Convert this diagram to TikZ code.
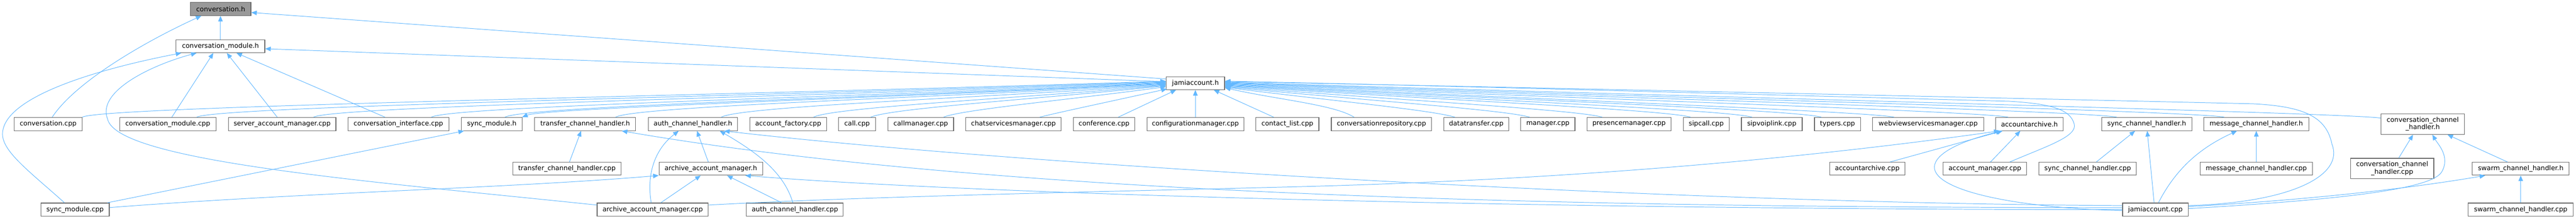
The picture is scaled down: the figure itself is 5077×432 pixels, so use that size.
\documentclass[tikz,border=0pt]{standalone}
\usepackage{fontspec}
\setmainfont{DejaVu Sans}
\usetikzlibrary{arrows.meta,calc}
\definecolor{edgeblue}{HTML}{63B8FF}
\definecolor{boxgray}{HTML}{666666}
\definecolor{rootgray}{HTML}{999999}
\tikzset{
  box/.style={draw=boxgray, line width=1.2pt, fill=white, inner sep=0pt,
    font=\fontsize{13}{14.5}\selectfont, align=center},
  fedge/.style={draw=edgeblue, line width=1pt, -{Triangle[length=11pt,width=9pt]}},
  redge/.style={draw=edgeblue, line width=1pt, {Triangle[length=11pt,width=9pt]}-},
}
\newcommand\boxnode[7][]{\node[box,#1, minimum width=#5pt, minimum height=#6pt] (#2) at (#3,#4) {#7};}
\newcommand\curvelink[5][fedge]{%
  \coordinate (s) at #2; \coordinate (e) at #3;
  \draw[#1] (s) .. controls ($(s)+#4$) and ($(e)!#5!(s)$) .. (e);}
\begin{document}
\begin{tikzpicture}[x=1pt,y=-1pt]
\useasboundingbox (0,0) rectangle (5077,432);
% rank 0-2
\boxnode[fill=rootgray]{convh}{435}{17.7}{119}{26}{conversation.h}
\boxnode{convmodh}{434.5}{91.3}{175}{25.5}{conversation\_module.h}
\boxnode{jamih}{2356}{164.3}{115}{25.5}{jamiaccount.h}
% rank 3
\boxnode{convcpp}{94.9}{245}{133.3}{26}{conversation.cpp}
\boxnode{convmodcpp}{330.7}{245}{189.7}{26}{conversation\_module.cpp}
\boxnode{samcpp}{556}{245}{212}{26}{server\_account\_manager.cpp}
\boxnode{convifcpp}{785.2}{245}{199}{26}{conversation\_interface.cpp}
\boxnode{syncmodh}{969.2}{245}{120.4}{26}{sync\_module.h}
\boxnode{tchh}{1153.3}{245}{199}{26}{transfer\_channel\_handler.h}
\boxnode{achh}{1365.6}{245}{175.7}{26}{auth\_channel\_handler.h}
\boxnode{afcpp}{1553.4}{245}{151.3}{26}{account\_factory.cpp}
\boxnode{callcpp}{1689.2}{245}{72.7}{26}{call.cpp}
\boxnode{cmcpp}{1814.7}{245}{129.5}{26}{callmanager.cpp}
\boxnode{csmcpp}{1997.4}{245}{188.1}{26}{chatservicesmanager.cpp}
\boxnode{confcpp}{2176}{245}{121.5}{26}{conference.cpp}
\boxnode{cfgcpp}{2355.9}{245}{190.8}{26}{configurationmanager.cpp}
\boxnode{clcpp}{2537.3}{245}{124.1}{26}{contact\_list.cpp}
\boxnode{crcpp}{2722.7}{245}{197.9}{26}{conversationrepository.cpp}
\boxnode{dtcpp}{2909.4}{245}{128}{26}{datatransfer.cpp}
\boxnode{mgrcpp}{3050.6}{245}{106.8}{26}{manager.cpp}
\boxnode{pmcpp}{3210.6}{245}{165.3}{26}{presencemanager.cpp}
\boxnode{sipcallcpp}{3362.8}{245}{90.4}{26}{sipcall.cpp}
\boxnode{svlcpp}{3491.9}{245}{119.8}{26}{sipvoiplink.cpp}
\boxnode{typcpp}{3621.5}{245}{90.5}{26}{typers.cpp}
\boxnode{wvsmcpp}{3800.1}{245}{219}{26}{webviewservicesmanager.cpp}
\boxnode{aah}{3999.8}{245}{132.8}{26}{accountarchive.h}
\boxnode{schh}{4230.9}{245}{177.6}{26}{sync\_channel\_handler.h}
\boxnode{mchh}{4446.8}{245}{206.6}{26}{message\_channel\_handler.h}
\boxnode{cchh}{4774.8}{245.2}{164.3}{40.3}{conversation\_channel\\\_handler.h}
% rank 4
\boxnode{tchcpp}{1117.3}{333.3}{213.5}{25.5}{transfer\_channel\_handler.cpp}
\boxnode{aamh}{1401}{333.3}{204.4}{25.5}{archive\_account\_manager.h}
\boxnode{aacpp}{3680}{333.3}{148}{25.5}{accountarchive.cpp}
\boxnode{amcpp}{3912}{333.3}{164.2}{25.5}{account\_manager.cpp}
\boxnode{schcpp}{4114.5}{333.3}{191.9}{25.5}{sync\_channel\_handler.cpp}
\boxnode{mchcpp}{4446.9}{333.3}{221.7}{25.5}{message\_channel\_handler.cpp}
\boxnode{cchcpp}{4714.6}{332.8}{164.2}{40.3}{conversation\_channel\\\_handler.cpp}
\boxnode{swhh}{4968}{333.3}{190.8}{25.5}{swarm\_channel\_handler.h}
% rank 5
\boxnode{smcpp}{148}{414}{134.4}{26}{sync\_module.cpp}
\boxnode{aamcpp}{1286.4}{414}{219}{26}{archive\_account\_manager.cpp}
\boxnode{achcpp}{1566.6}{414}{190.8}{26}{auth\_channel\_handler.cpp}
\boxnode{jacpp}{4248}{414}{129.3}{26}{jamiaccount.cpp}
\boxnode{swhcpp}{4968}{414}{207}{26}{swarm\_channel\_handler.cpp}

% ---- edges into conversation.h
\draw[fedge] (convmodh.north) -- (convmodh.north |- convh.south);
\draw[fedge] ($(convcpp.north)+(8,0)$) .. controls (150,160) and (290,80) .. ($(convh.south west)+(22,0)$);
\draw[fedge] ($(jamih.north west)+(0,5)$) -- ($(convh.east)+(0,7)$);
% ---- edges into conversation_module.h
\draw[fedge] ($(jamih.west)+(0,-3)$) -- ($(convmodh.east)+(0,5)$);
\draw[fedge] ($(convmodcpp.north)+(8,0)$) -- ($(convmodh.south)+(-14,0)$);
\draw[fedge] ($(samcpp.north)+(-9.6,0)$) -- ($(convmodh.south)+(12.5,0)$);
\draw[fedge] ($(convifcpp.north)+(-26.4,0)$) -- ($(convmodh.south)+(31.5,0)$);
\draw[fedge] ($(smcpp.north)+(-21,0)$) .. controls (60,340) and (5,300) .. (5,265)
  .. controls (5,190) and (200,135) .. ($(convmodh.south west)+(11,0)$);
\draw[fedge] ($(aamcpp.west)+(0,-9)$) .. controls (750,360) and (230,320) .. (212,235)
  .. controls (190,180) and (300,128) .. ($(convmodh.south)+(-47,0)$);

% ---- edges into jamiaccount.h from the left
\curvelink{(convcpp.north east)}{($(jamih.west)+(0,-4)$)}{(40,-22)}{0.4}
\curvelink{($(convmodcpp.north)+(57,0)$)}{($(jamih.west)+(0,-3)$)}{(40,-22)}{0.4}
\curvelink{($(samcpp.north)+(62,0)$)}{($(jamih.west)+(0,-2)$)}{(40,-22)}{0.4}
\curvelink{($(convifcpp.north)+(65,0)$)}{($(jamih.west)+(0,-1)$)}{(40,-22)}{0.4}
\curvelink{($(syncmodh.north)+(26,0)$)}{($(jamih.west)+(0,0)$)}{(40,-22)}{0.4}
\curvelink[redge]{($(syncmodh.north east)+(-1,0)$)}{($(jamih.west)+(0,1)$)}{(45,-18)}{0.4}
\curvelink{($(tchh.north)+(60,0)$)}{($(jamih.west)+(0,2)$)}{(40,-22)}{0.4}
\curvelink{($(achh.north)+(56,0)$)}{($(jamih.west)+(0,3)$)}{(40,-22)}{0.4}
\curvelink{($(afcpp.north)+(50,0)$)}{($(jamih.west)+(0,4)$)}{(40,-20)}{0.4}
\curvelink{($(callcpp.north)+(27,0)$)}{($(jamih.west)+(0,5)$)}{(40,-18)}{0.4}
\curvelink{($(cmcpp.north)+(45,0)$)}{($(jamih.west)+(0,7)$)}{(35,-15)}{0.4}
\curvelink{($(csmcpp.north)+(52,0)$)}{($(jamih.south west)+(2,-2)$)}{(30,-8)}{0.4}
\draw[fedge] ($(confcpp.north)+(28,0)$) -- ($(jamih.south west)+(20,0)$);
\draw[fedge] (cfgcpp.north) -- (cfgcpp.north |- jamih.south);
\draw[fedge] ($(clcpp.north)+(-27,0)$) -- ($(jamih.south east)+(-22,0)$);
% ---- edges into jamiaccount.h from the right
\curvelink{($(crcpp.north)+(-54,0)$)}{($(jamih.east)+(0,9)$)}{(-40,-25)}{0.4}
\curvelink{($(dtcpp.north)+(-42,0)$)}{($(jamih.east)+(0,8)$)}{(-50,-15)}{0.4}
\curvelink{($(mgrcpp.north)+(-36,0)$)}{($(jamih.east)+(0,7)$)}{(-50,-15)}{0.4}
\curvelink{($(pmcpp.north)+(-53,0)$)}{($(jamih.east)+(0,6)$)}{(-50,-15)}{0.4}
\curvelink{($(sipcallcpp.north)+(-31,0)$)}{($(jamih.east)+(0,5)$)}{(-50,-15)}{0.4}
\curvelink{($(svlcpp.north)+(-39,0)$)}{($(jamih.east)+(0,4)$)}{(-50,-15)}{0.4}
\curvelink{($(typcpp.north)+(-32,0)$)}{($(jamih.east)+(0,3)$)}{(-50,-15)}{0.4}
\curvelink{($(wvsmcpp.north)+(-67,0)$)}{($(jamih.east)+(0,2)$)}{(-60,-12)}{0.4}
\curvelink{($(aah.north)+(-42,0)$)}{($(jamih.east)+(0,1)$)}{(-60,-12)}{0.4}
\curvelink{($(schh.north)+(-59,0)$)}{($(jamih.east)+(0,0)$)}{(-60,-12)}{0.4}
\curvelink{($(mchh.north)+(-63,0)$)}{($(jamih.east)+(0,-1)$)}{(-60,-12)}{0.4}
\curvelink{($(cchh.west)+(0,-12)$)}{($(jamih.east)+(0,-2)$)}{(-60,-10)}{0.4}
\draw[fedge] ($(jacpp.east)+(0,-8)$) .. controls (4520,400) and (4620,345) .. (4596,285)
  .. controls (4585,230) and (4540,210) .. (4440,205)
  .. controls (4100,197) and (2900,170) .. ($(jamih.east)+(0,-3)$);
\draw[fedge] ($(amcpp.north)+(49,0)$) .. controls (4030,290) and (4095,270) .. (4088,245)
  .. controls (4080,215) and (4040,205) .. (3960,200)
  .. controls (3400,185) and (2800,168) .. ($(jamih.east)+(0,-4)$);

% ---- left lower part
\draw[fedge] ($(smcpp.north east)+(-4,0)$) -- ($(syncmodh.south west)+(6,0)$);
\draw[fedge] ($(smcpp.east)+(0,-4)$) .. controls (600,380) and (1000,372) .. (aamh.south west);
\draw[fedge] ($(tchcpp.north)+(5,0)$) -- ($(tchh.south)+(-8,0)$);
\draw[fedge] ($(aamh.north)+(-5,0)$) -- ($(achh.south)+(8,0)$);
\draw[fedge] ($(aamcpp.north)+(-3,0)$) .. controls (1274,345) and (1290,295) .. ($(achh.south)+(-28,0)$);
\draw[fedge] ($(achcpp.north)+(-4,0)$) .. controls (1545,340) and (1490,300) .. ($(achh.south)+(53,0)$);
\draw[fedge] ($(aamcpp.north)+(16,0)$) -- ($(aamh.south)+(-20,0)$);
\draw[fedge] ($(achcpp.north)+(-26,0)$) -- ($(aamh.south)+(32,0)$);
\draw[fedge] ($(aamcpp.east)+(0,-9)$) .. controls (1700,388) and (2200,378) .. (2550,369)
  .. controls (2900,360) and (3400,335) .. ($(aah.south west)+(8,0)$);
% ---- jamiaccount.cpp long edges to the left
\draw[fedge] ($(jacpp.west)+(0,-4)$) .. controls (3200,410) and (2000,392) .. ($(tchh.south east)+(-28,0)$);
\draw[fedge] ($(jacpp.west)+(0,-8)$) .. controls (3300,402) and (2000,325) .. ($(achh.south east)+(-27,0)$);
\draw[fedge] (jacpp.west) .. controls (3000,414) and (1900,382) .. ($(aamh.south east)+(-35,0)$);
% ---- accountarchive.h
\draw[fedge] ($(jacpp.west)+(0,2)$) .. controls (3950,410) and (3790,370) .. (3815,320)
  .. controls (3830,290) and (3900,270) .. ($(aah.south west)+(12,0)$);
\draw[fedge] ($(aacpp.north)+(45,0)$) -- ($(aah.south west)+(14,0)$);
\draw[fedge] ($(amcpp.north)+(11,0)$) -- ($(aah.south west)+(49,0)$);
% ---- right part
\draw[fedge] ($(schcpp.north)+(17,0)$) -- ($(schh.south)+(-23,0)$);
\draw[fedge] ($(jacpp.north)+(-2.5,0)$) -- ($(schh.south)+(1,0)$);
\draw[fedge] (mchcpp.north) -- (mchcpp.north |- mchh.south);
\draw[fedge] ($(jacpp.north)+(6,0)$) .. controls (4290,330) and (4340,290) .. ($(mchh.south)+(-38,0)$);
\draw[fedge] ($(cchcpp.north)+(13,0)$) -- ($(cchh.south)+(-19,0)$);
\draw[fedge] ($(jacpp.east)+(0,-2)$) .. controls (4600,395) and (4790,375) .. (4812,340)
  .. controls (4830,310) and (4805,285) .. ($(cchh.south)+(19,0)$);
\draw[fedge] ($(swhh.north)+(-26,0)$) -- ($(cchh.south east)+(-34,0)$);
\draw[fedge] (swhcpp.north) -- (swhh.south);
\draw[fedge] ($(jacpp.east)+(0,-6)$) .. controls (4550,395) and (4750,372) .. ($(swhh.south west)+(26,0)$);
\end{tikzpicture}
\end{document}
